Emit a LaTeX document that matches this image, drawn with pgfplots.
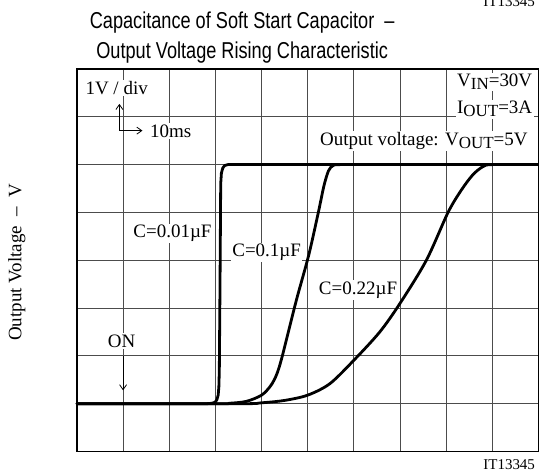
\documentclass[border=0pt]{standalone}
\usepackage{fontspec}
\setmainfont{Liberation Serif}
\newfontfamily\titlefont[FakeStretch=0.79]{Liberation Sans}
\usepackage{pgfplots}
\pgfplotsset{compat=1.18}
\usetikzlibrary{arrows.meta}
\newcommand{\sub}[1]{\raisebox{-0.35ex}{\fontsize{17}{17}\selectfont #1}}
\tikzset{
  lbl/.style={fill=white, inner sep=1.5pt, font=\fontsize{19}{22}\selectfont},
  arr/.style={line width=0.8pt, black, -{Straight Barb[length=5pt,width=7pt]}},
}
\begin{document}
\begin{tikzpicture}
\begin{axis}[
  scale only axis, width=462pt, height=383pt,
  xmin=0, xmax=10, ymin=-1, ymax=7,
  xtick={0,...,10}, ytick={-1,...,7},
  xticklabels={}, yticklabels={},
  major tick length=0pt,
  grid=major,
  grid style={line width=0.9pt, color=black!70},
  axis line style={line width=1.3pt, black},
  clip=false,
]
% annotations
\node[lbl, anchor=west] at (axis cs:0.15,6.6) {1V / div};
\node[lbl, anchor=west] at (axis cs:1.55,5.7) {10ms};
\node[lbl, anchor=east] at (axis cs:9.9,6.73) {V\sub{IN}=30V};
\node[lbl, anchor=east] at (axis cs:9.9,6.16) {I\sub{OUT}=3A};
\node[lbl, anchor=east] at (axis cs:9.8,5.5) {Output voltage: V\sub{OUT}=5V};
\node[lbl] at (axis cs:2.07,3.56) {C=0.01µF};
\node[lbl] at (axis cs:4.11,3.16) {C=0.1µF};
\node[lbl] at (axis cs:6.09,2.38) {C=0.22µF};
\node[lbl] at (axis cs:0.97,1.31) {ON};
\addplot[arr] coordinates {(1,1.0) (1,0.28)};
\addplot[line width=0.8pt, black, {Straight Barb[length=5pt,width=7pt]}-{Straight Barb[length=5pt,width=7pt]}] coordinates {(0.92,6.27) (0.92,5.71) (1.42,5.71)};
% curves
\addplot[line width=2.8pt, black, line join=round, line cap=round] coordinates {
(0,0) (2.80,0) (2.92,0.01) (2.99,0.03) (3.03,0.08) (3.06,0.18) (3.075,0.35) (3.085,0.7)
(3.10,2.5) (3.115,4.6) (3.13,4.82) (3.16,4.93) (3.2,4.98) (3.27,5.0) (10,5)};
\addplot[line width=2.8pt, black, line join=round, line cap=round, smooth, tension=0.5] coordinates {
(0,0) (3.0,0) (3.3,0.01) (3.67,0.05) (4.0,0.18) (4.2,0.38) (4.33,0.62) (4.45,1.0)
(4.75,2.15) (5.02,3.1) (5.23,4.0) (5.35,4.55) (5.45,4.87) (5.55,4.98) (5.7,5) (6.5,5)};
\addplot[line width=2.8pt, black, line join=round, line cap=round, smooth, tension=0.5] coordinates {
(0,0) (3.5,0) (4.0,0.02) (4.5,0.07) (5.0,0.18) (5.48,0.42) (6.0,0.91) (6.56,1.5)
(7.0,2.1) (7.57,3.0) (8.04,4.0) (8.33,4.47) (8.58,4.79) (8.8,4.96) (9.0,5.0) (10,5)};
% titles and labels
\node[anchor=base, font=\titlefont\fontsize{23}{23}\selectfont] at (rel axis cs:0.358,1) [yshift=40.5pt] {Capacitance of Soft Start Capacitor\ \ –};
\node[anchor=base, font=\titlefont\fontsize{23}{23}\selectfont] at (rel axis cs:0.358,1) [yshift=10pt] {Output Voltage Rising Characteristic};
\node[rotate=90, anchor=center, font=\fontsize{19}{19}\selectfont] at (axis description cs:-0.13,0.495) {Output Voltage~~–~~V};
\node[anchor=base east, font=\fontsize{15}{15}\selectfont] at (rel axis cs:1,0) [yshift=-18pt] {IT13345};
\node[anchor=base east, font=\fontsize{15}{15}\selectfont] at (rel axis cs:1,1) [yshift=62pt] {IT13345};
\end{axis}
\pgfresetboundingbox
\path (-77pt,-20pt) rectangle (462.5pt,452pt);
\end{tikzpicture}
\end{document}
